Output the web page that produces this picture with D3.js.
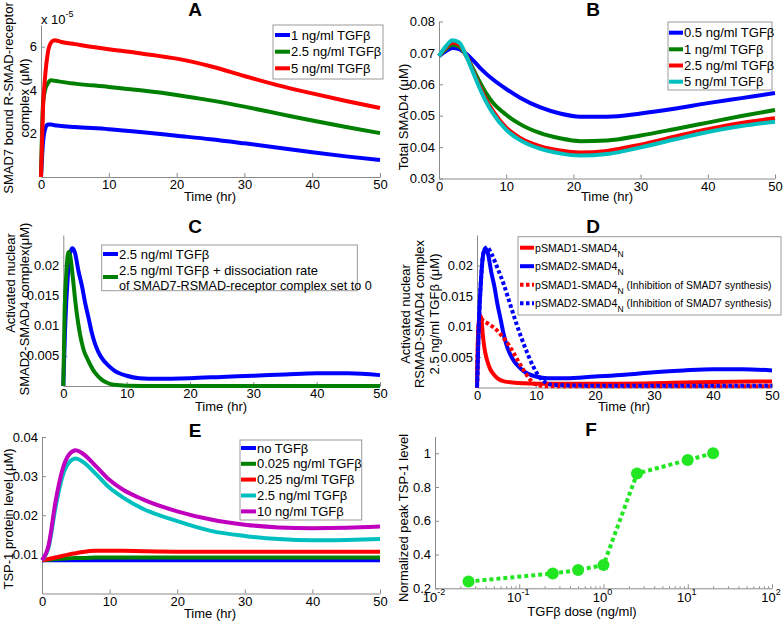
<!DOCTYPE html>
<html><head><meta charset="utf-8">
<script src="https://cdn.jsdelivr.net/npm/d3@7"></script>
<style>
body{margin:0;background:#fff}
svg{display:block}
text{font-family:"Liberation Sans",Arial,sans-serif;fill:#000}
</style>
</head><body><svg id="c" width="784" height="623"></svg>
<script>
// ---------- Panel A ----------
const tA = [0,0.3,0.6,1,1.5,2,3,5,10,15,20,25,30,35,40,45,50];
const aBlue  = [0,1.6e-5,2.2e-5,2.42e-5,2.42e-5,2.38e-5,2.35e-5,2.3e-5,2.2e-5,2.06e-5,1.9e-5,1.74e-5,1.55e-5,1.35e-5,1.14e-5,0.95e-5,0.78e-5];
const aGreen = [0,3.4e-5,4.0e-5,4.3e-5,4.45e-5,4.43e-5,4.38e-5,4.3e-5,4.15e-5,3.98e-5,3.78e-5,3.53e-5,3.24e-5,2.92e-5,2.6e-5,2.3e-5,2.02e-5];
const aRed   = [0,3.2e-5,4.6e-5,5.7e-5,6.2e-5,6.3e-5,6.22e-5,6.12e-5,5.88e-5,5.68e-5,5.45e-5,5.1e-5,4.65e-5,4.22e-5,3.85e-5,3.5e-5,3.18e-5];
const aLegend = ["1 ng/ml TGFβ","2.5 ng/ml TGFβ","5 ng/ml TGFβ"];
const aYTicks = [2e-5,4e-5,6e-5];

// ---------- Panel B ----------
const tB = [0,1,2,3,4,5,6,7,8,10,12,15,18,21,25,30,35,40,45,50];
const bBlue  = [0.069,0.0705,0.0716,0.0712,0.0698,0.0678,0.0655,0.0634,0.0616,0.0585,0.0558,0.0527,0.0507,0.0497,0.0497,0.0507,0.0522,0.0540,0.0556,0.0572];
const bGreen = [0.069,0.0712,0.0726,0.0720,0.0692,0.0652,0.0610,0.0572,0.0542,0.0503,0.0474,0.0445,0.0428,0.0419,0.0421,0.0437,0.0457,0.0478,0.0499,0.0518];
const bRed   = [0.069,0.0716,0.0733,0.0727,0.0694,0.0646,0.0596,0.0552,0.0516,0.0462,0.0430,0.0403,0.0389,0.0383,0.0388,0.0408,0.0433,0.0457,0.0477,0.0492];
const bCyan  = [0.069,0.0720,0.0740,0.0733,0.0693,0.0642,0.0590,0.0545,0.0508,0.0455,0.0423,0.0395,0.0380,0.0373,0.0378,0.0399,0.0424,0.0448,0.0467,0.0481];
const bLegend = ["0.5 ng/ml TGFβ","1 ng/ml TGFβ","2.5 ng/ml TGFβ","5 ng/ml TGFβ"];
const bYTicks = [0.03,0.04,0.05,0.06,0.07,0.08];

// ---------- Panel C ----------
const tCBlue = [0,0.3,0.7,1,1.4,1.8,2.4,3,3.4,4,4.5,5,5.5,6.3,7,8,10,12,15,20,25,30,35,40,45,50];
const cBlue  = [0,0.010,0.018,0.0215,0.0228,0.0222,0.019,0.0163,0.014,0.0112,0.0088,0.007,0.0057,0.0043,0.0035,0.0026,0.0017,0.0013,0.0012,0.0013,0.0015,0.0017,0.0019,0.0021,0.0021,0.0018];
const tCGreen = [0,0.2,0.5,0.8,1.1,1.5,1.9,2.6,3.2,3.9,5,6,7,8,10,15,20,50];
const cGreen = [0,0.012,0.019,0.0222,0.0215,0.018,0.014,0.0088,0.006,0.0043,0.0022,0.0011,0.0005,0.0002,0.00005,0,0,0];
const cYTicks = [0.005,0.01,0.015,0.02];

// ---------- Panel D ----------
const tDRed = [0,0.2,0.5,0.7,1,1.3,1.7,2.2,2.7,3.6,4.6,8,12,20,30,40,50];
const dRed  = [0,0.009,0.0118,0.0115,0.0085,0.0062,0.0045,0.0031,0.0023,0.0014,0.001,0.0007,0.0006,0.0006,0.0007,0.0009,0.0010];
const tDBlue = [0,0.3,0.7,1,1.4,1.8,2.4,3,3.4,4,4.5,5,5.5,6.3,7,8,10,12,15,20,25,30,35,40,45,50];
const dBlue  = [0,0.010,0.018,0.0215,0.0228,0.0222,0.019,0.0163,0.014,0.0112,0.0088,0.007,0.0057,0.0043,0.0035,0.0026,0.0018,0.0015,0.0015,0.0018,0.0021,0.0025,0.0028,0.003,0.003,0.0028];
const tDRedInh = [0,0.2,0.5,1,2,3,4,5,6,7,8,9,10,12,20,50];
const dRedInh  = [0,0.009,0.0115,0.011,0.0104,0.0097,0.0087,0.0075,0.006,0.0043,0.0027,0.0013,0.0005,0.0002,0.0002,0.0002];
const tDBlueInh = [0,0.3,0.7,1.2,1.7,2.5,3.5,4.5,5.5,6.5,7.5,8.5,9.5,10.5,11.5,13,20,50];
const dBlueInh  = [0,0.01,0.018,0.0225,0.023,0.0218,0.0195,0.017,0.014,0.011,0.0082,0.0057,0.0035,0.0018,0.0009,0.0004,0.0003,0.0003];
const dYTicks = [0.005,0.01,0.015,0.02];

// ---------- Panel E ----------
const tE = [0,1,2,3,4,5,6,8,10,12,15,20,25,30,35,40,45,50];
const eNone  = [0.0085,0.0085,0.0085,0.0085,0.0085,0.0085,0.0085,0.0085,0.0085,0.0085,0.0085,0.0085,0.0085,0.0085,0.0085,0.0085,0.0085,0.0085];
const e0025  = [0.0085,0.0086,0.0088,0.0089,0.0090,0.0091,0.0091,0.0092,0.0092,0.0092,0.0092,0.0092,0.0092,0.0092,0.0092,0.0092,0.0092,0.0092];
const e025   = [0.0085,0.0088,0.0092,0.0096,0.0100,0.0103,0.0106,0.0109,0.0109,0.0109,0.0108,0.0107,0.0107,0.0107,0.0107,0.0107,0.0107,0.0107];
const e25    = [0.0085,0.012,0.022,0.0298,0.0335,0.0345,0.0337,0.0305,0.027,0.0245,0.0216,0.0185,0.0160,0.0147,0.0139,0.0136,0.0137,0.0139];
const e10    = [0.0085,0.0125,0.0235,0.0315,0.0355,0.0366,0.0358,0.0325,0.029,0.0265,0.024,0.021,0.0189,0.0176,0.0169,0.0167,0.0168,0.0171];
const eLegend = ["no TGFβ","0.025 ng/ml TGFβ","0.25 ng/ml TGFβ","2.5 ng/ml TGFβ","10 ng/ml TGFβ"];
const eYTicks = [0.01,0.02,0.03,0.04];

// ---------- Panel F ----------
const fDose = [0.025,0.25,0.5,1,2.5,10,20];
const fPeak = [0.24,0.288,0.308,0.338,0.88,0.96,1.0];
const fYTicks = [0.2,0.4,0.6,0.8,1];
const fXExp = [-2,-1,0,1,2];

const timeTicks = [0,10,20,30,40,50];

const svg = d3.select("#c");
const AX = "#8a8a8a";
const BLUE="#0000ff", GREEN="#008000", RED="#ff0000", CYAN="#00bfbf", MAG="#bf00bf", LIME="#22e622";

function axes(x, y, xTicks, yTicks, xFmt, yFmt){
  const g = svg.append("g");
  const xa = d3.axisBottom(x).tickValues(xTicks).tickSizeInner(-4).tickSizeOuter(0).tickPadding(3).tickFormat(xFmt);
  const ya = d3.axisLeft(y).tickValues(yTicks).tickSizeInner(-4).tickSizeOuter(0).tickPadding(4).tickFormat(yFmt);
  const gx = g.append("g").attr("transform",`translate(0,${y.range()[0]})`).call(xa);
  const gy = g.append("g").attr("transform",`translate(${x.range()[0]},0)`).call(ya);
  [gx,gy].forEach(a=>{
    a.select(".domain").attr("stroke",AX);
    a.selectAll(".tick line").attr("stroke",AX);
    a.selectAll("text").attr("font-size",13).attr("fill","#000").attr("font-family","Liberation Sans, Arial, sans-serif");
  });
  return g;
}
function series(x,y,ts,vs,color,dash){
  const pts = ts.map((t,i)=>[t,vs[i]]);
  const p = svg.append("path").datum(pts)
    .attr("fill","none").attr("stroke",color).attr("stroke-width",4)
    .attr("stroke-linejoin","round")
    .attr("d", d3.line().x(d=>x(d[0])).y(d=>y(d[1])).curve(d3.curveMonotoneX));
  if(dash) p.attr("stroke-dasharray",dash);
  return p;
}
function title(txt,cx,by){
  svg.append("text").attr("x",cx).attr("y",by).attr("text-anchor","middle")
    .attr("font-family","Open Sans, sans-serif").attr("font-weight","bold").attr("font-size",19).text(txt);
}
function ylab(txt,cx,cy,fs){
  svg.append("text").attr("transform",`translate(${cx},${cy}) rotate(-90)`)
    .attr("text-anchor","middle").attr("dominant-baseline","central").attr("font-size",fs||13).text(txt);
}
function xlab(txt,cx,cy){
  svg.append("text").attr("x",cx).attr("y",cy).attr("text-anchor","middle")
    .attr("dominant-baseline","central").attr("font-size",13).text(txt);
}
function legendBox(x0,y0,x1,y1){
  svg.append("rect").attr("x",x0).attr("y",y0).attr("width",x1-x0).attr("height",y1-y0)
    .attr("fill","#fff").attr("stroke","#9a9a9a").attr("stroke-width",1);
}
function legendSample(x0,x1,yy,color,dash){
  const l = svg.append("line").attr("x1",x0).attr("x2",x1).attr("y1",yy).attr("y2",yy)
    .attr("stroke",color).attr("stroke-width",4);
  if(dash) l.attr("stroke-dasharray",dash);
}
function legendText(x,yy,txt,fs){
  return svg.append("text").attr("x",x).attr("y",yy).attr("dominant-baseline","central")
    .attr("font-size",fs||13).text(txt);
}
const fmt = d=>String(+d.toFixed(3));

// ===== Panel A =====
{
  const x = d3.scaleLinear().domain([0,50]).range([41,380]);
  const y = d3.scaleLinear().domain([0,7e-5]).range([177,25]);
  axes(x,y,timeTicks,aYTicks,d3.format("d"),d=>String(Math.round(d*1e5)));
  series(x,y,tA,aBlue,BLUE);
  series(x,y,tA,aGreen,GREEN);
  series(x,y,tA,aRed,RED);
  const t = svg.append("text").attr("x",41).attr("y",24).attr("font-size",13);
  t.append("tspan").text("x 10");
  t.append("tspan").attr("dy",-7).attr("font-size",9).text("-5");
  title("A",195,16);
  ylab("SMAD7 bound R-SMAD-receptor",8,98);
  ylab("complex (μM)",24,98);
  xlab("Time (hr)",210,196);
  legendBox(273,25,383,79);
  const cols=[BLUE,GREEN,RED], rows=[35,51.7,68.3];
  aLegend.forEach((s,i)=>{legendSample(275,290,rows[i],cols[i]);legendText(291,rows[i],s);});
}
// ===== Panel B =====
{
  const x = d3.scaleLinear().domain([0,50]).range([439,775]);
  const y = d3.scaleLinear().domain([0.03,0.08]).range([178.5,21.5]);
  axes(x,y,timeTicks,bYTicks,d3.format("d"),d3.format(".2f"));
  series(x,y,tB,bBlue,BLUE);
  series(x,y,tB,bGreen,GREEN);
  series(x,y,tB,bRed,RED);
  series(x,y,tB,bCyan,CYAN);
  title("B",593,16);
  ylab("Total SMAD4 (μM)",403,117);
  xlab("Time (hr)",607,196);
  legendBox(668,22,772,90);
  const cols=[BLUE,GREEN,RED,CYAN], rows=[32.7,49.3,65.5,81.7];
  bLegend.forEach((s,i)=>{legendSample(669,683,rows[i],cols[i]);legendText(684,rows[i],s);});
}
// ===== Panel C =====
{
  const x = d3.scaleLinear().domain([0,50]).range([63.3,380]);
  const y = d3.scaleLinear().domain([0,0.025]).range([386,235]);
  axes(x,y,timeTicks,cYTicks,d3.format("d"),fmt);
  series(x,y,tCBlue,cBlue,BLUE);
  series(x,y,tCGreen,cGreen,GREEN);
  title("C",195,233);
  ylab("Activated nuclear",10,283);
  ylab("SMAD2-SMAD4 complex(μM)",24,309);
  xlab("Time (hr)",221,406);
  legendBox(101.7,245,357.3,290.7);
  legendSample(103,118,254,BLUE);
  legendText(119,254,"2.5 ng/ml TGFβ");
  legendSample(103,118,277,GREEN);
  legendText(119,270.5,"2.5 ng/ml TGFβ + dissociation rate");
  legendText(119,285.5,"of SMAD7-RSMAD-receptor complex set to 0",12.6);
}
// ===== Panel D =====
{
  const x = d3.scaleLinear().domain([0,50]).range([477,772]);
  const y = d3.scaleLinear().domain([0,0.025]).range([387.5,235]);
  axes(x,y,timeTicks,dYTicks,d3.format("d"),fmt);
  series(x,y,tDRed,dRed,RED);
  series(x,y,tDBlue,dBlue,BLUE);
  series(x,y,tDRedInh,dRedInh,RED,"3.5,2.5");
  series(x,y,tDBlueInh,dBlueInh,BLUE,"3.5,2.5");
  title("D",593,233);
  ylab("Activated nuclear",405,314);
  ylab("RSMAD-SMAD4 complex",419,314);
  ylab("2.5 ng/ml TGFβ (μM)",434,314);
  xlab("Time (hr)",624,406);
  legendBox(518,236.7,781,315);
  const items=[["pSMAD1-SMAD4","",RED,null],["pSMAD2-SMAD4","",BLUE,null],
    ["pSMAD1-SMAD4"," (Inhibition of SMAD7 synthesis)",RED,"3.5,2.5"],
    ["pSMAD2-SMAD4"," (Inhibition of SMAD7 synthesis)",BLUE,"3.5,2.5"]];
  const rows=[247.7,266.2,284.7,303.2];
  items.forEach((it,i)=>{
    legendSample(520,534,rows[i],it[2],it[3]);
    const t = svg.append("text").attr("x",535).attr("y",rows[i]+4).attr("font-size",10.6);
    t.append("tspan").text(it[0]);
    t.append("tspan").attr("dy",5).attr("font-size",8.5).text("N");
    if(it[1]) t.append("tspan").attr("dy",-5).attr("textLength",148).attr("lengthAdjust","spacingAndGlyphs").text(it[1]);
  });
}
// ===== Panel E =====
{
  const x = d3.scaleLinear().domain([0,50]).range([42,380]);
  const y = d3.scaleLinear().domain([0,0.04]).range([593.5,437]);
  axes(x,y,timeTicks,eYTicks,d3.format("d"),fmt);
  series(x,y,tE,eNone,BLUE);
  series(x,y,tE,e0025,GREEN);
  series(x,y,tE,e025,RED);
  series(x,y,tE,e25,CYAN);
  series(x,y,tE,e10,MAG);
  title("E",195,437);
  ylab("TSP-1 protein level (μM)",8,519);
  xlab("Time (hr)",210,613);
  legendBox(240,440,361.7,520);
  const cols=[BLUE,GREEN,RED,CYAN,MAG], rows=[448,463.8,479.6,495.5,511.4];
  eLegend.forEach((s,i)=>{legendSample(241,256,rows[i],cols[i]);legendText(257,rows[i],s);});
}
// ===== Panel F =====
{
  const x = d3.scaleLog().domain([0.01,100]).range([435,772]);
  const y = d3.scaleLinear().domain([0.2,1.1]).range([588.3,436.4]);
  const majors = fXExp.map(e=>Math.pow(10,e));
  axes(x,y,majors,fYTicks,()=>"",d3.format("~g"));
  const minors=[];
  majors.slice(0,-1).forEach(m=>{for(let k=2;k<10;k++) minors.push(m*k);});
  svg.append("g").attr("transform","translate(0,588.3)")
    .call(d3.axisBottom(x).tickValues(minors).tickSizeInner(-2).tickSizeOuter(0).tickFormat(""))
    .call(a=>{a.select(".domain").remove();a.selectAll("line").attr("stroke",AX);});
  fXExp.forEach(e=>{
    const t = svg.append("text").attr("x",x(Math.pow(10,e))-1).attr("y",602).attr("text-anchor","middle").attr("font-size",13);
    t.append("tspan").text("10");
    t.append("tspan").attr("dy",-7).attr("font-size",9).text(String(e));
  });
  const pts = fDose.map((d,i)=>[d,fPeak[i]]);
  svg.append("path").datum(pts).attr("fill","none").attr("stroke",LIME).attr("stroke-width",4)
    .attr("stroke-dasharray","4,3")
    .attr("d",d3.line().x(d=>x(d[0])).y(d=>y(d[1])));
  svg.append("g").selectAll("circle").data(pts).join("circle")
    .attr("cx",d=>x(d[0])).attr("cy",d=>y(d[1])).attr("r",6).attr("fill",LIME);
  title("F",591,436);
  ylab("Normalized peak TSP-1 level",403,518);
  xlab("TGFβ dose (ng/ml)",582,611);
}
</script></body></html>
